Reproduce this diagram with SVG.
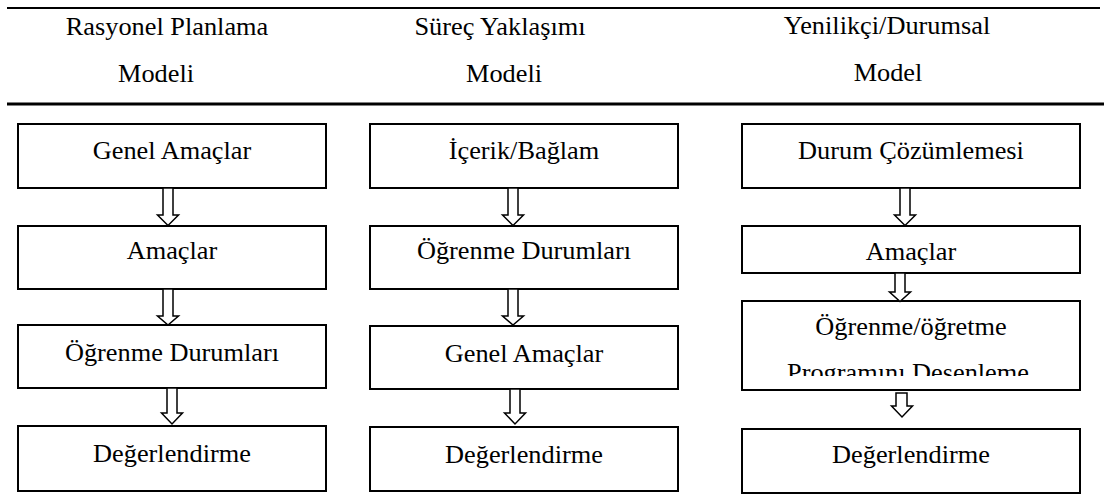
<svg xmlns="http://www.w3.org/2000/svg" width="1104" height="494" viewBox="0 0 1104 494">
  <style>
    .rule { stroke: #000; fill: none; }
    .box rect { fill: #fff; stroke: #000; stroke-width: 2; }
    .lbl { font-family: "Liberation Serif", "Times New Roman", Times, Tinos, "Noto Serif", "DejaVu Serif", "Nimbus Roman", "FreeSerif", serif; font-size: 24.6px; fill: #000; text-anchor: middle; }
    .arrow { fill: #fff; stroke: #000; stroke-width: 1.5; stroke-linejoin: miter; }
  </style>
  <defs>
    <clipPath id="clip-desen">
      <rect x="742" y="301" width="338" height="75"/>
    </clipPath>
  </defs>
  <rect x="0" y="0" width="1104" height="494" fill="#fff"/>

  <!-- table header rules -->
  <line class="rule" x1="7" y1="8" x2="1100" y2="8" stroke-width="2"/>
  <line class="rule" x1="7" y1="104" x2="1104" y2="104" stroke-width="3"/>

  <!-- column headings -->
  <g id="heading-rasyonel">
    <text class="lbl" transform="translate(167,35) scale(1.07,1)">Rasyonel Planlama</text>
    <text class="lbl" transform="translate(156,82) scale(1.07,1)">Modeli</text>
  </g>
  <g id="heading-surec">
    <text class="lbl" transform="translate(500,35) scale(1.07,1)">Süreç Yaklaşımı</text>
    <text class="lbl" transform="translate(504,82) scale(1.07,1)">Modeli</text>
  </g>
  <g id="heading-yenilikci">
    <text class="lbl" transform="translate(887,34) scale(1.07,1)">Yenilikçi/Durumsal</text>
    <text class="lbl" transform="translate(888,81) scale(1.07,1)">Model</text>
  </g>

  <!-- column 1: Rasyonel Planlama Modeli -->
  <g id="r1" class="box">
    <rect x="18" y="124" width="308" height="64"/>
    <text class="lbl" transform="translate(172,159) scale(1.07,1)">Genel Amaçlar</text>
  </g>
  <g id="r2" class="box">
    <rect x="18" y="226" width="308" height="63"/>
    <text class="lbl" transform="translate(172,259) scale(1.07,1)">Amaçlar</text>
  </g>
  <g id="r3" class="box">
    <rect x="18" y="325" width="308" height="63"/>
    <text class="lbl" transform="translate(172,361) scale(1.07,1)">Öğrenme Durumları</text>
  </g>
  <g id="r4" class="box">
    <rect x="18" y="426" width="308" height="65"/>
    <text class="lbl" transform="translate(172,462) scale(1.07,1)">Değerlendirme</text>
  </g>

  <!-- column 2: Süreç Yaklaşımı Modeli -->
  <g id="s1" class="box">
    <rect x="370" y="124" width="308" height="64"/>
    <text class="lbl" transform="translate(524,159) scale(1.07,1)">İçerik/Bağlam</text>
  </g>
  <g id="s2" class="box">
    <rect x="370" y="226" width="308" height="63"/>
    <text class="lbl" transform="translate(524,259) scale(1.07,1)">Öğrenme Durumları</text>
  </g>
  <g id="s3" class="box">
    <rect x="370" y="326" width="308" height="63"/>
    <text class="lbl" transform="translate(524,362) scale(1.07,1)">Genel Amaçlar</text>
  </g>
  <g id="s4" class="box">
    <rect x="370" y="427" width="308" height="64"/>
    <text class="lbl" transform="translate(524,463) scale(1.07,1)">Değerlendirme</text>
  </g>

  <!-- column 3: Yenilikçi/Durumsal Model -->
  <g id="y1" class="box">
    <rect x="742" y="124" width="338" height="64"/>
    <text class="lbl" transform="translate(911,159) scale(1.07,1)">Durum Çözümlemesi</text>
  </g>
  <g id="y2" class="box">
    <rect x="742" y="226" width="338" height="47"/>
    <text class="lbl" transform="translate(911,260) scale(1.07,1)">Amaçlar</text>
  </g>
  <g id="y3" class="box">
    <rect x="742" y="301" width="338" height="89"/>
    <text class="lbl" transform="translate(911,335) scale(1.07,1)">Öğrenme/öğretme</text>
    <g clip-path="url(#clip-desen)">
      <text class="lbl" transform="translate(908,381) scale(1.07,1)">Programını Desenleme</text>
    </g>
  </g>
  <g id="y4" class="box">
    <rect x="742" y="429" width="338" height="64"/>
    <text class="lbl" transform="translate(911,463) scale(1.07,1)">Değerlendirme</text>
  </g>

  <!-- hollow block arrows between steps -->
  <g id="connectors">
    <!-- column 1 -->
    <polygon class="arrow" points="163,188 173,188 173,215 178.5,215 168,225.5 157.5,215 163,215"/>
    <polygon class="arrow" points="163,289 173,289 173,316 178.5,316 168,325 157.5,316 163,316"/>
    <polygon class="arrow" points="167,388 177,388 177,413 182.5,413 172,424 161.5,413 167,413"/>
    <!-- column 2 -->
    <polygon class="arrow" points="508,188 518,188 518,215 523.5,215 513,225.5 502.5,215 508,215"/>
    <polygon class="arrow" points="508,289 518,289 518,316 523.5,316 513,325 502.5,316 508,316"/>
    <polygon class="arrow" points="510,389 520,389 520,413 525.5,413 515,424 504.5,413 510,413"/>
    <!-- column 3 -->
    <polygon class="arrow" points="900,188 910,188 910,215 915.5,215 905,225.5 894.5,215 900,215"/>
    <polygon class="arrow" points="895,273 905,273 905,292 910.5,292 900,301.5 889.5,292 895,292"/>
    <polygon class="arrow" points="896,393 907,393 907,406 912.5,406 902,417 891.5,406 896,406"/>
  </g>
</svg>
